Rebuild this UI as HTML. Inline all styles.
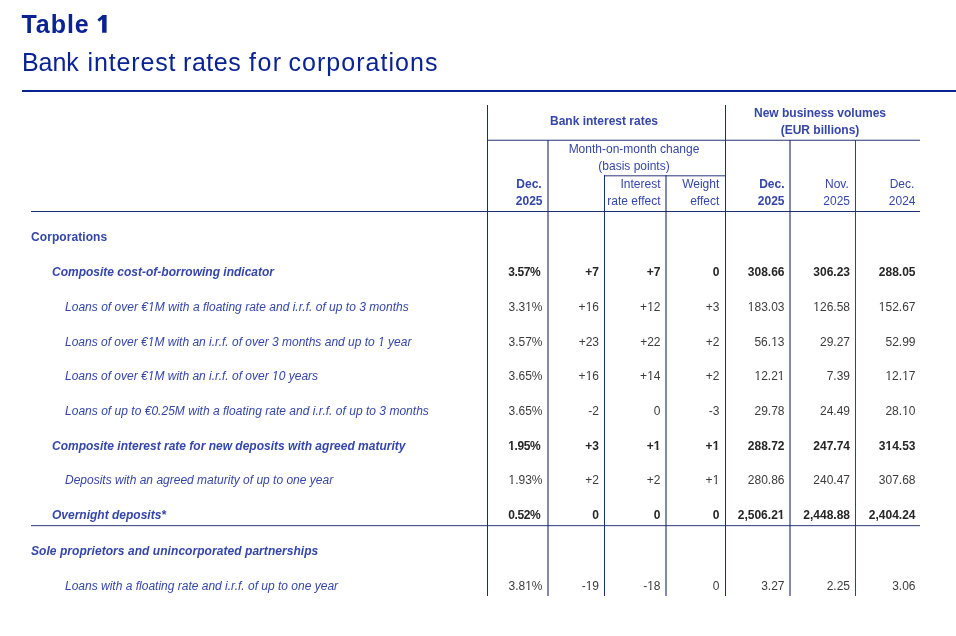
<!DOCTYPE html>
<html><head><meta charset="utf-8"><style>
html,body{margin:0;padding:0;background:#fff;width:956px;height:636px;overflow:hidden}
body{position:relative;font-family:"Liberation Sans",sans-serif}
#w{position:absolute;left:0;top:0;width:956px;height:636px;will-change:transform}
.t{position:absolute;white-space:nowrap;font-size:12px;line-height:14px;color:#3446aa}
.c{width:300px;text-align:center}
.hb{font-weight:bold}
.hr{font-weight:normal}
.lb{font-weight:bold}
.lbi{font-weight:bold;font-style:italic}
.li{font-style:italic}
.nb{font-weight:bold;color:#262626}
.nr{color:#3c3c3c}
.l{position:absolute}
.o{display:inline-block;clip-path:polygon(-6px -6px,14px -6px,14px 10px,4.3px 10px,4.3px 13px,2.9px 13px,2.9px 10px,-6px 10px)}
.nb .o,.hb .o,.lb .o{clip-path:polygon(-6px -6px,14px -6px,14px 9.6px,4.6px 9.6px,4.6px 13px,2.7px 13px,2.7px 9.6px,-6px 9.6px)}
.li .o{clip-path:polygon(-6px -6px,14px -6px,14px 10px,3.9px 10px,3.9px 13px,2.4px 13px,2.4px 10px,-6px 10px)}
.lbi .o{clip-path:polygon(-6px -6px,14px -6px,14px 9.6px,4.4px 9.6px,4.4px 13px,2.4px 13px,2.4px 9.6px,-6px 9.6px)}
.tw{position:absolute;font-size:25px;line-height:29px;white-space:nowrap;color:#0a2394}
.tb{font-weight:bold}
#tl{position:absolute;left:22px;top:90px;width:934px;height:2px;background:#0a2394}
</style></head><body><div id="w">
<div class="tw tb" style="left:21.5px;top:10px;letter-spacing:0.95px">Table</div>
<div class="tw " style="left:22.0px;top:48px;letter-spacing:-0.066px">Bank</div>
<div class="tw " style="left:87.5px;top:48px;letter-spacing:0.858px">interest</div>
<div class="tw " style="left:183.0px;top:48px;letter-spacing:0.55px">rates</div>
<div class="tw " style="left:249px;top:48px;letter-spacing:1.5px">for</div>
<div class="tw " style="left:288.5px;top:48px;letter-spacing:1.036px">corporations</div>
<svg style="position:absolute;left:0;top:0" width="120" height="40" viewBox="0 0 120 40"><path fill="#0a2394" d="M102.1 15H106.6V32.75H102.1V19.3L99.2 21.8L97.4 19.5L102.6 15Z"/></svg>
<div id="tl"></div>
<div class="l" style="left:487px;top:139px;width:433px;height:1px;background:#1e2d70;opacity:0.25"></div>
<div class="l" style="left:487px;top:140px;width:433px;height:1px;background:#1e2d70;opacity:0.72"></div>
<div class="l" style="left:604px;top:175px;width:121px;height:1px;background:#1e2d70;opacity:0.65"></div>
<div class="l" style="left:604px;top:176px;width:121px;height:1px;background:#1e2d70;opacity:0.3"></div>
<div class="l" style="left:31px;top:211px;width:889px;height:1px;background:#1e2d70;opacity:1"></div>
<div class="l" style="left:31px;top:525px;width:889px;height:1px;background:#1e2d70;opacity:0.8"></div>
<div class="l" style="left:31px;top:526px;width:889px;height:1px;background:#1e2d70;opacity:0.15"></div>
<div class="l" style="left:487px;top:105px;width:1px;height:491px;background:#1e2d70;opacity:1"></div>
<div class="l" style="left:547px;top:140px;width:2px;height:456px;background:#1e2d70;opacity:0.56"></div>
<div class="l" style="left:604px;top:175px;width:1px;height:421px;background:#1e2d70;opacity:1"></div>
<div class="l" style="left:665px;top:175px;width:2px;height:421px;background:#1e2d70;opacity:0.56"></div>
<div class="l" style="left:725px;top:105px;width:1px;height:491px;background:#1e2d70;opacity:1"></div>
<div class="l" style="left:789px;top:140px;width:2px;height:456px;background:#1e2d70;opacity:0.56"></div>
<div class="l" style="left:855px;top:140px;width:1px;height:456px;background:#1e2d70;opacity:0.9"></div>
<div class="t hb c" style="left:454px;top:114px">Bank interest rates</div>
<div class="t hb c" style="left:670px;top:106px">New business volumes</div>
<div class="t hb c" style="left:670px;top:123px">(EUR billions)</div>
<div class="t hr c" style="left:484px;top:142px">Month-on-month change</div>
<div class="t hr c" style="left:484px;top:159px">(basis points)</div>
<div class="t hb" style="right:414.3px;top:177px">Dec.</div>
<div class="t hb" style="right:413.5px;top:194px">2025</div>
<div class="t hr" style="right:295.5px;top:177px">Interest</div>
<div class="t hr" style="right:295.5px;top:194px">rate effect</div>
<div class="t hr" style="right:236.7px;top:177px">Weight</div>
<div class="t hr" style="right:236.7px;top:194px">effect</div>
<div class="t hb" style="right:171.5px;top:177px">Dec.</div>
<div class="t hb" style="right:171.5px;top:194px">2025</div>
<div class="t hr" style="right:107.2px;top:177px">Nov.</div>
<div class="t hr" style="right:106px;top:194px">2025</div>
<div class="t hr" style="right:41.7px;top:177px">Dec.</div>
<div class="t hr" style="right:40.5px;top:194px">2024</div>
<div class="t lb" style="left:31px;top:230px;letter-spacing:0.07px">Corporations</div>
<div class="t lbi" style="left:52px;top:265px">Composite cost-of-borrowing indicator</div>
<div class="t nb" style="right:415.9px;top:265px;letter-spacing:-0.45px">3.57%</div>
<div class="t nb" style="right:357px;top:265px">+7</div>
<div class="t nb" style="right:295.5px;top:265px">+7</div>
<div class="t nb" style="right:236.7px;top:265px">0</div>
<div class="t nb" style="right:171.5px;top:265px">308.66</div>
<div class="t nb" style="right:106px;top:265px">306.23</div>
<div class="t nb" style="right:40.5px;top:265px">288.05</div>
<div class="t li" style="left:65px;top:300px;letter-spacing:0.02px">Loans of over €<span class="o">1</span>M with a floating rate and i.r.f. of up to 3 months</div>
<div class="t nr" style="right:413.5px;top:300px">3.3<span class="o">1</span>%</div>
<div class="t nr" style="right:357px;top:300px">+<span class="o">1</span>6</div>
<div class="t nr" style="right:295.5px;top:300px">+<span class="o">1</span>2</div>
<div class="t nr" style="right:236.7px;top:300px">+3</div>
<div class="t nr" style="right:171.5px;top:300px"><span class="o">1</span>83.03</div>
<div class="t nr" style="right:106px;top:300px"><span class="o">1</span>26.58</div>
<div class="t nr" style="right:40.5px;top:300px"><span class="o">1</span>52.67</div>
<div class="t li" style="left:65px;top:335px">Loans of over €<span class="o">1</span>M with an i.r.f. of over 3 months and up to <span class="o">1</span> year</div>
<div class="t nr" style="right:413.5px;top:335px">3.57%</div>
<div class="t nr" style="right:357px;top:335px">+23</div>
<div class="t nr" style="right:295.5px;top:335px">+22</div>
<div class="t nr" style="right:236.7px;top:335px">+2</div>
<div class="t nr" style="right:171.5px;top:335px">56.<span class="o">1</span>3</div>
<div class="t nr" style="right:106px;top:335px">29.27</div>
<div class="t nr" style="right:40.5px;top:335px">52.99</div>
<div class="t li" style="left:65px;top:369px">Loans of over €<span class="o">1</span>M with an i.r.f. of over <span class="o">1</span>0 years</div>
<div class="t nr" style="right:413.5px;top:369px">3.65%</div>
<div class="t nr" style="right:357px;top:369px">+<span class="o">1</span>6</div>
<div class="t nr" style="right:295.5px;top:369px">+<span class="o">1</span>4</div>
<div class="t nr" style="right:236.7px;top:369px">+2</div>
<div class="t nr" style="right:171.5px;top:369px"><span class="o">1</span>2.2<span class="o">1</span></div>
<div class="t nr" style="right:106px;top:369px">7.39</div>
<div class="t nr" style="right:40.5px;top:369px"><span class="o">1</span>2.<span class="o">1</span>7</div>
<div class="t li" style="left:65px;top:404px;letter-spacing:0.02px">Loans of up to €0.25M with a floating rate and i.r.f. of up to 3 months</div>
<div class="t nr" style="right:413.5px;top:404px">3.65%</div>
<div class="t nr" style="right:357px;top:404px">-2</div>
<div class="t nr" style="right:295.5px;top:404px">0</div>
<div class="t nr" style="right:236.7px;top:404px">-3</div>
<div class="t nr" style="right:171.5px;top:404px">29.78</div>
<div class="t nr" style="right:106px;top:404px">24.49</div>
<div class="t nr" style="right:40.5px;top:404px">28.<span class="o">1</span>0</div>
<div class="t lbi" style="left:52px;top:439px">Composite interest rate for new deposits with agreed maturity</div>
<div class="t nb" style="right:415.9px;top:439px;letter-spacing:-0.45px"><span class="o">1</span>.95%</div>
<div class="t nb" style="right:357px;top:439px">+3</div>
<div class="t nb" style="right:295.5px;top:439px">+<span class="o">1</span></div>
<div class="t nb" style="right:236.7px;top:439px">+<span class="o">1</span></div>
<div class="t nb" style="right:171.5px;top:439px">288.72</div>
<div class="t nb" style="right:106px;top:439px">247.74</div>
<div class="t nb" style="right:40.5px;top:439px">3<span class="o">1</span>4.53</div>
<div class="t li" style="left:65px;top:473px">Deposits with an agreed maturity of up to one year</div>
<div class="t nr" style="right:413.5px;top:473px"><span class="o">1</span>.93%</div>
<div class="t nr" style="right:357px;top:473px">+2</div>
<div class="t nr" style="right:295.5px;top:473px">+2</div>
<div class="t nr" style="right:236.7px;top:473px">+<span class="o">1</span></div>
<div class="t nr" style="right:171.5px;top:473px">280.86</div>
<div class="t nr" style="right:106px;top:473px">240.47</div>
<div class="t nr" style="right:40.5px;top:473px">307.68</div>
<div class="t lbi" style="left:52px;top:508px">Overnight deposits*</div>
<div class="t nb" style="right:415.9px;top:508px;letter-spacing:-0.45px">0.52%</div>
<div class="t nb" style="right:357px;top:508px">0</div>
<div class="t nb" style="right:295.5px;top:508px">0</div>
<div class="t nb" style="right:236.7px;top:508px">0</div>
<div class="t nb" style="right:171.5px;top:508px">2,506.2<span class="o">1</span></div>
<div class="t nb" style="right:106px;top:508px">2,448.88</div>
<div class="t nb" style="right:40.5px;top:508px">2,404.24</div>
<div class="t lbi" style="left:31px;top:544px;letter-spacing:0.055px">Sole proprietors and unincorporated partnerships</div>
<div class="t li" style="left:65px;top:579px">Loans with a floating rate and i.r.f. of up to one year</div>
<div class="t nr" style="right:413.5px;top:579px">3.8<span class="o">1</span>%</div>
<div class="t nr" style="right:357px;top:579px">-<span class="o">1</span>9</div>
<div class="t nr" style="right:295.5px;top:579px">-<span class="o">1</span>8</div>
<div class="t nr" style="right:236.7px;top:579px">0</div>
<div class="t nr" style="right:171.5px;top:579px">3.27</div>
<div class="t nr" style="right:106px;top:579px">2.25</div>
<div class="t nr" style="right:40.5px;top:579px">3.06</div>
</div></body></html>
